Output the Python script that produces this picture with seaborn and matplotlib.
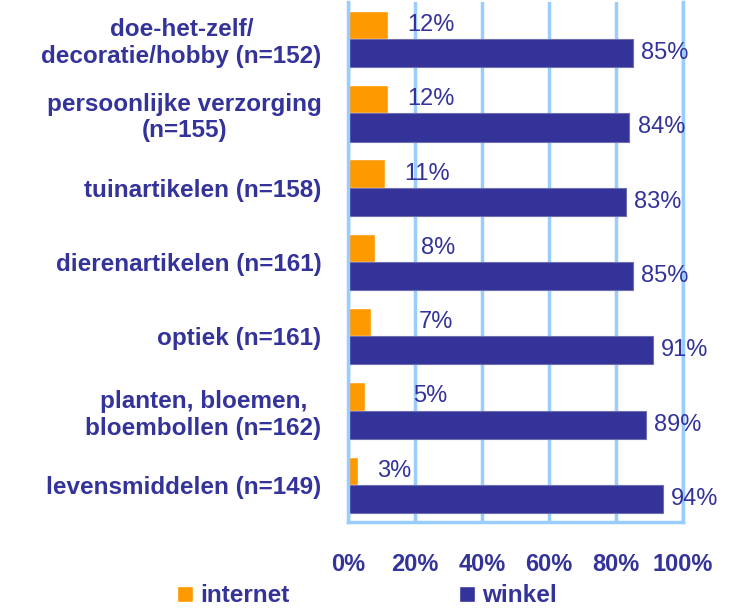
import pandas as pd
import matplotlib.pyplot as plt
import seaborn as sns

categories = [
    "doe-het-zelf/\ndecoratie/hobby (n=152)",
    "persoonlijke verzorging\n(n=155)",
    "tuinartikelen (n=158)",
    "dierenartikelen (n=161)",
    "optiek (n=161)",
    "planten, bloemen,\nbloembollen (n=162)",
    "levensmiddelen (n=149)",
]
internet = [12, 12, 11, 8, 7, 5, 3]
winkel = [85, 84, 83, 85, 91, 89, 94]
series = ["internet", "winkel"]
ticks = [0, 20, 40, 60, 80, 100]

navy = "#333399"
orange = "#FF9900"
grid_blue = "#99CCFF"

df = pd.DataFrame({
    "cat": categories * 2,
    "pct": internet + winkel,
    "kanaal": ["internet"] * len(categories) + ["winkel"] * len(categories),
})

sns.set_style("white")
plt.rcParams["font.family"] = ["Liberation Sans", "DejaVu Sans"]

fig = plt.figure(figsize=(7.42, 6.12), dpi=100)
ax = fig.add_axes([0.469, 0.147, 0.4515, 0.85])

sns.barplot(data=df, y="cat", x="pct", hue="kanaal", hue_order=series,
            palette=[orange, navy], orient="h", width=0.76, ax=ax,
            saturation=1, order=categories)

for bar in ax.containers[1]:
    bar.set_edgecolor("#6f6fb0")
    bar.set_linewidth(0.8)

# excel puts the short orange labels a bit further out
pad_internet = [14, 14, 14, 33, 34, 34.5, 14]
for bar, v, p in zip(ax.containers[0], internet, pad_internet):
    ax.annotate(f"{v}%", (bar.get_width(), bar.get_y() + bar.get_height() / 2),
                xytext=(p, 0), textcoords="offset points", ha="left", va="center",
                color=navy, fontsize=17)
ax.bar_label(ax.containers[1], labels=[f"{v}%" for v in winkel],
             padding=6, color=navy, fontsize=17)

ax.set_xlim(0, 100)
ax.set_xticks(ticks)
ax.set_xticklabels([f"{t}%" for t in ticks], fontsize=17, fontweight="bold", color=navy)
ax.tick_params(axis="x", length=0, pad=22)
ax.tick_params(axis="y", length=0, pad=19)
for lab in ax.get_yticklabels():
    lab.set_fontsize(17.5)
    lab.set_fontweight("bold")
    lab.set_color(navy)
    lab.set_multialignment("center")

ax.set_xlabel("")
ax.set_ylabel("")
ax.xaxis.grid(True, color=grid_blue, lw=2.5)
ax.yaxis.grid(False)
ax.set_axisbelow(True)
for side in ["left", "bottom", "right"]:
    ax.spines[side].set_color(grid_blue)
    ax.spines[side].set_linewidth(2.5)
ax.spines["top"].set_visible(False)

handles, labels = ax.get_legend_handles_labels()
ax.legend_.remove()
leg = fig.legend(handles, labels, loc="center", bbox_to_anchor=(367 / 742, 1 - 596 / 612),
                 ncol=2, frameon=False, handlelength=0.65, handleheight=0.65,
                 handletextpad=0.3, columnspacing=7.0,
                 prop={"size": 17.5, "weight": "bold"})
for t in leg.get_texts():
    t.set_color(navy)

fig.savefig("out.png", dpi=100)
